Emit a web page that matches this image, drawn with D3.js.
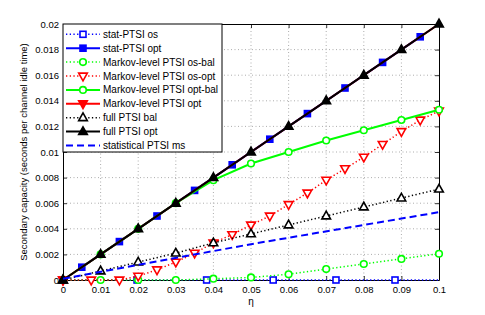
<!DOCTYPE html>
<html>
<head>
<meta charset="utf-8">
<script src="https://cdn.jsdelivr.net/npm/d3@7"></script>
<style>
  html, body { margin: 0; padding: 0; background: #fff; }
  svg { display: block; }
  text { font-family: "Liberation Sans", Arial, Helvetica, sans-serif; }
</style>
</head>
<body>
<svg id="chart" width="485" height="315"></svg>
<script>
// ---- data ----
const etaTicks = [0, 0.01, 0.02, 0.03, 0.04, 0.05, 0.06, 0.07, 0.08, 0.09, 0.1];
const etaTickLabels = ["0", "0.01", "0.02", "0.03", "0.04", "0.05", "0.06", "0.07", "0.08", "0.09", "0.1"];
const capTicks = [0, 0.002, 0.004, 0.006, 0.008, 0.01, 0.012, 0.014, 0.016, 0.018, 0.02];
const capTickLabels = ["0", "0.002", "0.004", "0.006", "0.008", "0.01", "0.012", "0.014", "0.016", "0.018", "0.02"];

const statOsX = [0, 0.0197, 0.0382, 0.0559, 0.0726, 0.0883, 0.1];
const statOsY = [0, 0, 0, 0, 0, 0, 0];
const statOsMarks = [true, true, true, true, true, true, false];

const statOptX = [0.005, 0.015, 0.025, 0.035, 0.045, 0.055, 0.065, 0.075, 0.085, 0.095];
const statOptY = [0.001, 0.003, 0.005, 0.007, 0.009, 0.011, 0.013, 0.015, 0.017, 0.019];

const mlOsBalX = [0, 0.01, 0.02, 0.03, 0.04, 0.05, 0.06, 0.07, 0.08, 0.09, 0.1];
const mlOsBalY = [0, 0, 0, 0, 0.0001, 0.0002, 0.00045, 0.00085, 0.00125, 0.00165, 0.00205];

const mlOsOptX = [0, 0.0075, 0.015, 0.02, 0.025, 0.03, 0.035, 0.04, 0.045, 0.05, 0.055, 0.06, 0.065, 0.07, 0.075, 0.08, 0.085, 0.09, 0.095, 0.1];
const mlOsOptY = [0, 0, 0, 0.0003, 0.0008, 0.0014, 0.0021, 0.0029, 0.00355, 0.0043, 0.0050, 0.0059, 0.0068, 0.0078, 0.0087, 0.0096, 0.0106, 0.0116, 0.0125, 0.0132];

const mlOptBalX = [0, 0.01, 0.02, 0.03, 0.04, 0.05, 0.06, 0.07, 0.08, 0.09, 0.1];
const mlOptBalY = [0, 0.002, 0.004, 0.006, 0.0078, 0.0091, 0.0100, 0.0109, 0.0117, 0.0125, 0.0133];

const mlOptX = [0, 0.1];
const mlOptY = [0, 0.02];
const mlOptMarks = [true, false];

const fullBalX = [0, 0.01, 0.02, 0.03, 0.04, 0.05, 0.06, 0.07, 0.08, 0.09, 0.1];
const fullBalY = [0, 0.0007, 0.0014, 0.0021, 0.0029, 0.0036, 0.0043, 0.0050, 0.0057, 0.0064, 0.0071];

const fullOptX = [0, 0.01, 0.02, 0.03, 0.04, 0.05, 0.06, 0.07, 0.08, 0.09, 0.1];
const fullOptY = [0, 0.002, 0.004, 0.006, 0.008, 0.01, 0.012, 0.014, 0.016, 0.018, 0.02];

const msX = [0, 0.05, 0.1];
const msY = [0.0001, 0.0028, 0.0053];

const seriesNames = ["stat-PTSI os", "stat-PTSI opt", "Markov-level PTSI os-bal", "Markov-level PTSI os-opt",
  "Markov-level PTSI opt-bal", "Markov-level PTSI opt", "full PTSI bal", "full PTSI opt", "statistical PTSI ms"];

const xLabel = "η";
const yLabel = "Secondary capacity (seconds per channel idle time)";

// ---- build series ----
const zip = (xs, ys, marks) => xs.map((x, i) => ({x, y: ys[i], m: marks ? marks[i] : true}));
const series = [
  {name: seriesNames[0], pts: zip(statOsX, statOsY, statOsMarks), color: "#0000ff", style: "dot", marker: "square", filled: false},
  {name: seriesNames[1], pts: zip(statOptX, statOptY), color: "#0000ff", style: "solid", marker: "square", filled: true},
  {name: seriesNames[2], pts: zip(mlOsBalX, mlOsBalY), color: "#00ff00", style: "dot", marker: "circle", filled: false},
  {name: seriesNames[3], pts: zip(mlOsOptX, mlOsOptY), color: "#ff0000", style: "dot", marker: "tridown", filled: false},
  {name: seriesNames[4], pts: zip(mlOptBalX, mlOptBalY), color: "#00ff00", style: "solid", marker: "circle", filled: false},
  {name: seriesNames[5], pts: zip(mlOptX, mlOptY, mlOptMarks), color: "#ff0000", style: "solid", marker: "tridown", filled: true},
  {name: seriesNames[6], pts: zip(fullBalX, fullBalY), color: "#000000", style: "dot", marker: "triup", filled: false},
  {name: seriesNames[7], pts: zip(fullOptX, fullOptY), color: "#000000", style: "solid", marker: "triup", filled: true},
  {name: seriesNames[8], pts: zip(msX, msY), color: "#0000ff", style: "dash", marker: null, filled: false}
];

// ---- layout ----
const svg = d3.select("#chart");
const L = 63, R = 439, T = 24, B = 280;
const x = d3.scaleLinear().domain([0, 0.1]).range([L, R]);
const y = d3.scaleLinear().domain([0, 0.02]).range([B, T]);

// grid
const grid = svg.append("g");
grid.selectAll("line.gx").data(etaTicks.slice(1, -1)).enter().append("line")
  .attr("x1", d => x(d)).attr("x2", d => x(d)).attr("y1", T).attr("y2", B)
  .attr("stroke", "#8a8a8a").attr("stroke-width", 0.7).attr("stroke-dasharray", "1,2.5");
grid.selectAll("line.gy").data(capTicks.slice(1, -1)).enter().append("line")
  .attr("x1", L).attr("x2", R).attr("y1", d => y(d)).attr("y2", d => y(d))
  .attr("stroke", "#8a8a8a").attr("stroke-width", 0.7).attr("stroke-dasharray", "1,2.5");

// axes
const fmtX = d => etaTickLabels[etaTicks.indexOf(d)];
const fmtY = d => capTickLabels[capTicks.indexOf(d)];
const axB = svg.append("g").attr("transform", `translate(0,${B})`)
  .call(d3.axisBottom(x).tickValues(etaTicks).tickFormat(fmtX).tickSizeInner(-4).tickSizeOuter(0).tickPadding(6));
const axT = svg.append("g").attr("transform", `translate(0,${T})`)
  .call(d3.axisTop(x).tickValues(etaTicks).tickFormat("").tickSizeInner(-4).tickSizeOuter(0));
const axL = svg.append("g").attr("transform", `translate(${L},0)`)
  .call(d3.axisLeft(y).tickValues(capTicks).tickFormat(fmtY).tickSizeInner(-4).tickSizeOuter(0).tickPadding(4));
const axR = svg.append("g").attr("transform", `translate(${R},0)`)
  .call(d3.axisRight(y).tickValues(capTicks).tickFormat("").tickSizeInner(-4).tickSizeOuter(0));
[axB, axT, axL, axR].forEach(a => {
  a.select(".domain").attr("stroke", "#000").attr("stroke-width", 1);
  a.selectAll(".tick line").attr("stroke", "#000").attr("stroke-width", 0.8);
  a.selectAll("text").attr("font-size", 9.5).attr("fill", "#000")
    .attr("font-family", "'Liberation Sans', Arial, sans-serif");
});
axB.selectAll(".tick text").attr("dy", "0.71em");

// labels
svg.append("text").attr("x", (L + R) / 2).attr("y", 305).attr("text-anchor", "middle")
  .attr("font-size", 10).text(xLabel);
svg.append("text").attr("transform", `translate(27,${(T + B) / 2}) rotate(-90)`)
  .attr("text-anchor", "middle").attr("font-size", 9.5).text(yLabel);

// ---- drawing helpers ----
function lineAttrs(sel, s) {
  sel.attr("fill", "none").attr("stroke", s.color);
  if (s.style === "solid") sel.attr("stroke-width", 2);
  else if (s.style === "dot") sel.attr("stroke-width", 1.5).attr("stroke-dasharray", "1.3,2.4");
  else if (s.style === "dash") sel.attr("stroke-width", 2).attr("stroke-dasharray", "7,4");
  return sel;
}
function drawMarker(g, s, cx, cy) {
  if (!s.marker) return;
  const fill = s.filled ? s.color : "#fff";
  const sw = 1.6;
  let m;
  if (s.marker === "square") {
    const h = 3;
    m = g.append("rect").attr("x", cx - h).attr("y", cy - h).attr("width", 2 * h).attr("height", 2 * h);
  } else if (s.marker === "circle") {
    m = g.append("circle").attr("cx", cx).attr("cy", cy).attr("r", 3.3);
  } else if (s.marker === "triup") {
    const r = 4.8;
    m = g.append("path").attr("d", `M${cx},${cy - r} L${cx + r * 0.9},${cy + r * 0.6} L${cx - r * 0.9},${cy + r * 0.6} Z`);
  } else if (s.marker === "tridown") {
    const r = 4.8;
    m = g.append("path").attr("d", `M${cx},${cy + r} L${cx + r * 0.9},${cy - r * 0.6} L${cx - r * 0.9},${cy - r * 0.6} Z`);
  }
  m.attr("fill", fill).attr("stroke", s.color).attr("stroke-width", sw);
}

// ---- series ----
const line = d3.line().x(d => x(d.x)).y(d => y(d.y));
const plot = svg.append("g");
series.forEach(s => {
  const g = plot.append("g");
  lineAttrs(g.append("path").attr("d", line(s.pts)), s);
  s.pts.forEach(p => { if (p.m) drawMarker(g, s, x(p.x), y(p.y)); });
});

// ---- legend ----
const lg = svg.append("g");
const lx0 = L, ly0 = T, lw = 159, rowH = 13.9;
lg.append("rect").attr("x", lx0).attr("y", ly0).attr("width", lw).attr("height", 128)
  .attr("fill", "#fff").attr("stroke", "#000").attr("stroke-width", 1);
series.forEach((s, i) => {
  const cy = ly0 + 10.3 + i * rowH;
  lineAttrs(lg.append("line").attr("x1", lx0 + 3).attr("x2", lx0 + 37).attr("y1", cy).attr("y2", cy), s);
  drawMarker(lg, s, lx0 + 20, cy);
  lg.append("text").attr("x", lx0 + 40).attr("y", cy).attr("dy", "0.35em")
    .attr("font-size", 10).text(s.name);
});
</script>
</body>
</html>
